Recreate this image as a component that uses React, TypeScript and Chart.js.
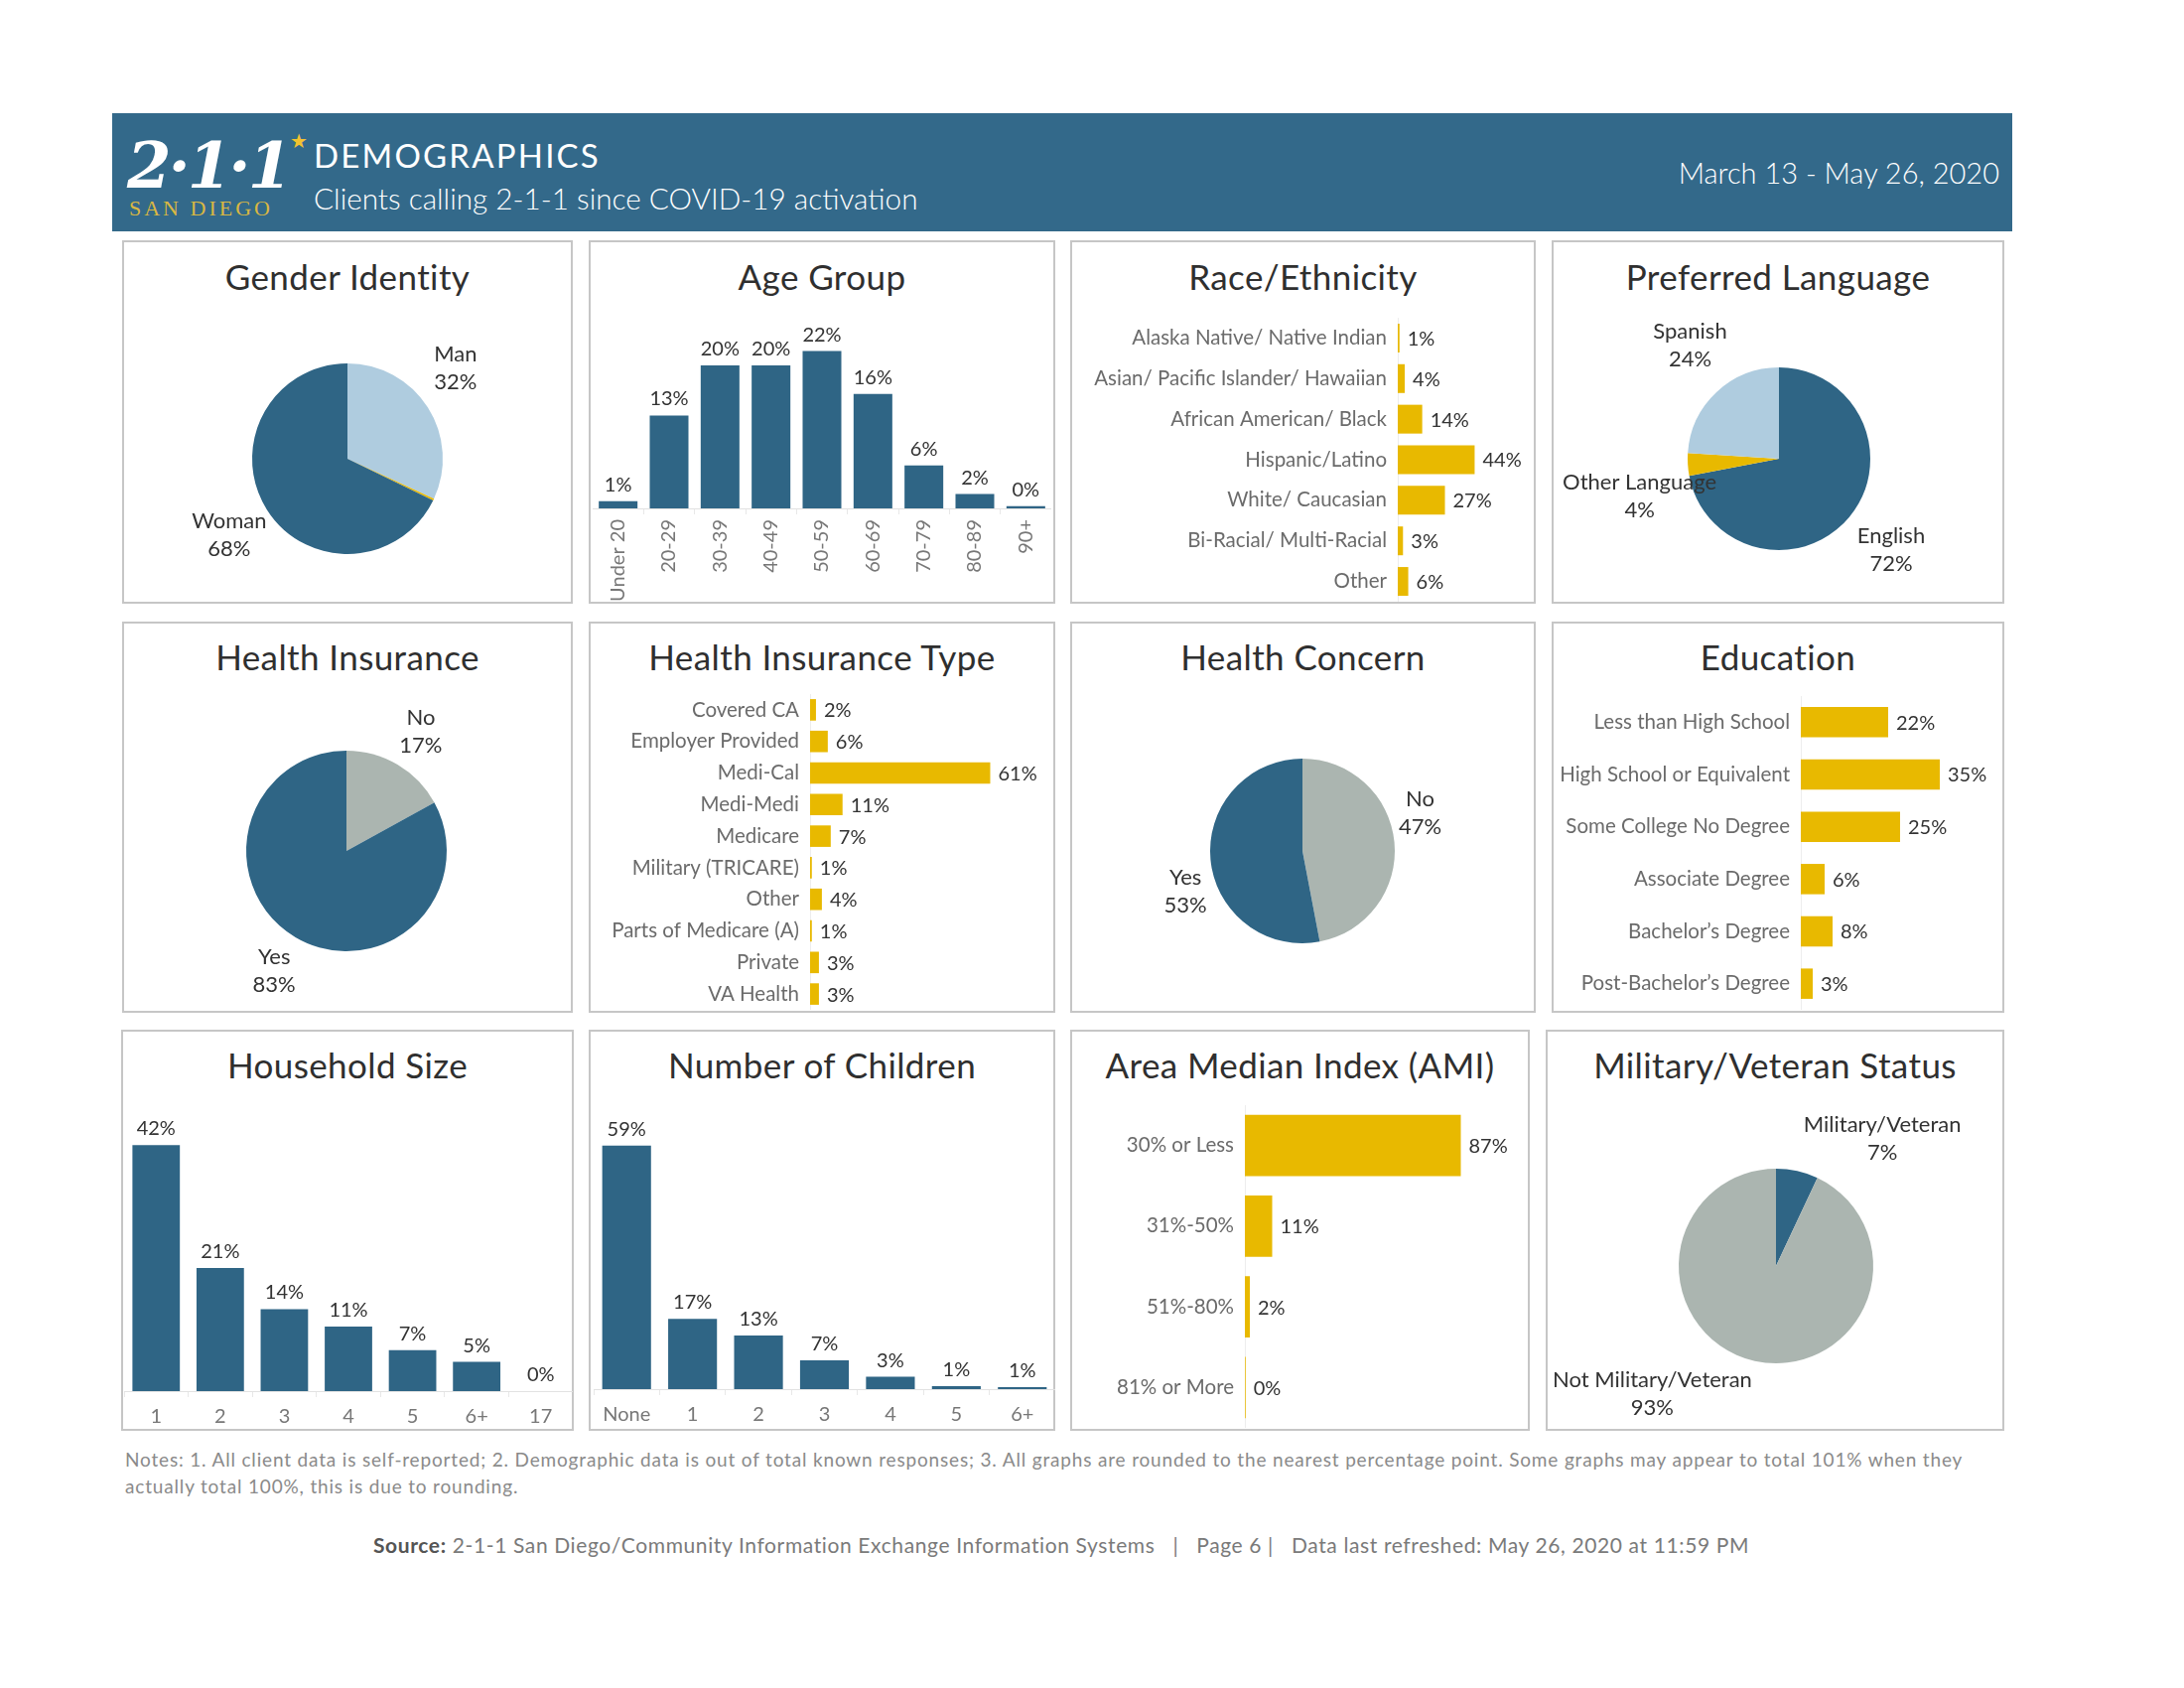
import React, { useEffect, useRef } from 'react';
import Chart from 'chart.js/auto';

const FONT = "Lato, 'Open Sans', 'DejaVu Sans', sans-serif";
const BLUE = '#2F6585';
const HEADER = '#33698A';
const LIGHT_BLUE = '#AFCCDF';
const GOLD = '#E8B900';
const GRAY = '#ABB5B0';
const TEXT = '#333333';
const TICK = '#6b6b6b';

Chart.defaults.font.family = FONT;

// ---------------- data ----------------
const GENDER_LABELS = ['Man', 'Another Gender', 'Woman'];
const GENDER_VALUES = [32, 0.3, 68];

const AGE_LABELS = ['Under 20', '20-29', '30-39', '40-49', '50-59', '60-69', '70-79', '80-89', '90+'];
const AGE_VALUES = [1, 13, 20, 20, 22, 16, 6, 2, 0.3];

const RACE_LABELS = [
  'Alaska Native/ Native Indian',
  'Asian/ Pacific Islander/ Hawaiian',
  'African American/ Black',
  'Hispanic/Latino',
  'White/ Caucasian',
  'Bi-Racial/ Multi-Racial',
  'Other',
];
const RACE_VALUES = [1, 4, 14, 44, 27, 3, 6];

const LANGUAGE_LABELS = ['English', 'Other Language', 'Spanish'];
const LANGUAGE_VALUES = [72, 4, 24];

const INSURANCE_LABELS = ['No', 'Yes'];
const INSURANCE_VALUES = [17, 83];

const INS_TYPE_LABELS = [
  'Covered CA',
  'Employer Provided',
  'Medi-Cal',
  'Medi-Medi',
  'Medicare',
  'Military (TRICARE)',
  'Other',
  'Parts of Medicare (A)',
  'Private',
  'VA Health',
];
const INS_TYPE_VALUES = [2, 6, 61, 11, 7, 0.6, 4, 0.6, 3, 3];

const CONCERN_LABELS = ['No', 'Yes'];
const CONCERN_VALUES = [47, 53];

const EDUCATION_LABELS = [
  'Less than High School',
  'High School or Equivalent',
  'Some College No Degree',
  'Associate Degree',
  'Bachelor\u2019s Degree',
  'Post-Bachelor\u2019s Degree',
];
const EDUCATION_VALUES = [22, 35, 25, 6, 8, 3];

const HOUSEHOLD_LABELS = ['1', '2', '3', '4', '5', '6+', '17'];
const HOUSEHOLD_VALUES = [42, 21, 14, 11, 7, 5, 0];

const CHILDREN_LABELS = ['None', '1', '2', '3', '4', '5', '6+'];
const CHILDREN_VALUES = [59, 17, 13, 7, 3, 0.7, 0.5];

const AMI_LABELS = ['30% or Less', '31%-50%', '51%-80%', '81% or More'];
const AMI_VALUES = [87, 11, 2, 0.3];

const MILITARY_LABELS = ['Military/Veteran', 'Not Military/Veteran'];
const MILITARY_VALUES = [7, 93];

// ---------------- plugins ----------------
const valueLabels = (horizontal: boolean) => ({
  id: 'valueLabels',
  afterDatasetsDraw(chart: any) {
    const { ctx } = chart;
    const ds = chart.data.datasets[0];
    const meta = chart.getDatasetMeta(0);
    ctx.save();
    ctx.font = `20px ${FONT}`;
    ctx.fillStyle = TEXT;
    meta.data.forEach((el: any, i: number) => {
      const t = `${Math.round(ds.data[i])}%`;
      if (horizontal) {
        ctx.textAlign = 'left';
        ctx.textBaseline = 'middle';
        ctx.fillText(t, el.x + 8, el.y + 1);
      } else {
        ctx.textAlign = 'center';
        ctx.textBaseline = 'alphabetic';
        ctx.fillText(t, el.x, el.y - 10);
      }
    });
    ctx.restore();
  },
});

const pieLabels = (factor: number | number[], anglesDeg?: (number | null)[]) => ({
  id: 'pieLabels',
  afterDatasetsDraw(chart: any) {
    const { ctx } = chart;
    const ds = chart.data.datasets[0];
    const labels = chart.data.labels;
    const meta = chart.getDatasetMeta(0);
    ctx.save();
    ctx.font = `22px ${FONT}`;
    ctx.fillStyle = TEXT;
    ctx.textAlign = 'center';
    ctx.textBaseline = 'middle';
    meta.data.forEach((arc: any, i: number) => {
      const v = ds.data[i];
      if (v < 1) return;
      const p = arc.getProps(['x', 'y', 'startAngle', 'endAngle', 'outerRadius'], true);
      const ov = anglesDeg ? anglesDeg[i] : null;
      const a = ov != null ? ((ov - 90) * Math.PI) / 180 : (p.startAngle + p.endAngle) / 2;
      const f = Array.isArray(factor) ? factor[i] : factor;
      const d = p.outerRadius * f;
      const lx = p.x + Math.cos(a) * d;
      const ly = p.y + Math.sin(a) * d;
      ctx.fillText(labels[i], lx, ly - 14);
      ctx.fillText(`${Math.round(v)}%`, lx, ly + 14);
    });
    ctx.restore();
  },
});

// ---------------- config builders ----------------
const baseOptions = {
  animation: false,
  responsive: false,
  maintainAspectRatio: false,
  events: [],
};

function vBar(labels: string[], values: number[], max: number, o: { rotate: boolean; axisH: number; barPct: number; tickLen: number; tickPad: number }) {
  return {
    type: 'bar',
    data: {
      labels,
      datasets: [{ data: values, backgroundColor: BLUE, borderWidth: 0, barPercentage: o.barPct, categoryPercentage: 1 }],
    },
    options: {
      ...baseOptions,
      layout: { padding: 0 },
      plugins: { legend: { display: false }, tooltip: { enabled: false } },
      scales: {
        x: {
          grid: { display: true, drawOnChartArea: false, offset: true, tickLength: o.tickLen, color: '#e8e8e8' },
          border: { display: true, color: '#e2e2e2' },
          ticks: {
            autoSkip: false,
            color: '#777777',
            font: { size: 20, family: FONT },
            padding: o.tickPad,
            maxRotation: o.rotate ? 90 : 0,
            minRotation: o.rotate ? 90 : 0,
          },
          afterFit: (s: any) => {
            s.height = o.axisH;
            s.paddingLeft = 0;
            s.paddingRight = 0;
          },
        },
        y: { display: false, min: 0, max },
      },
    },
    plugins: [valueLabels(false)],
  };
}

function hBar(labels: string[], values: number[], max: number, axisW: number, barPct: number) {
  return {
    type: 'bar',
    data: {
      labels,
      datasets: [{ data: values, backgroundColor: GOLD, borderWidth: 0, barPercentage: barPct, categoryPercentage: 1 }],
    },
    options: {
      ...baseOptions,
      indexAxis: 'y',
      layout: { padding: 0 },
      plugins: { legend: { display: false }, tooltip: { enabled: false } },
      scales: {
        y: {
          grid: { display: true, drawOnChartArea: false, drawTicks: false, color: '#eeeeee' },
          border: { display: true, color: '#ededed' },
          ticks: { autoSkip: false, color: TICK, font: { size: 20.5, family: FONT }, padding: 11 },
          afterFit: (s: any) => {
            s.width = axisW;
            s.paddingTop = 0;
            s.paddingBottom = 0;
          },
        },
        x: { display: false, min: 0, max },
      },
    },
    plugins: [valueLabels(true)],
  };
}

function pie(
  labels: string[],
  values: number[],
  colors: string[],
  rect: { x: number; y: number; w: number; h: number },
  cx: number,
  cy: number,
  r: number,
  factor: number | number[],
  angles?: (number | null)[]
) {
  return {
    type: 'pie',
    data: { labels, datasets: [{ data: values, backgroundColor: colors, borderWidth: 0 }] },
    options: {
      ...baseOptions,
      layout: {
        padding: {
          left: cx - r - rect.x,
          top: cy - r - rect.y,
          right: rect.x + rect.w - (cx + r),
          bottom: rect.y + rect.h - (cy + r),
        },
      },
      plugins: { legend: { display: false }, tooltip: { enabled: false } },
    },
    plugins: [pieLabels(factor, angles)],
  };
}

// ---------------- components ----------------
function ChartCanvas({ x, y, w, h, make }: { x: number; y: number; w: number; h: number; make: () => any }) {
  const ref = useRef<HTMLCanvasElement>(null);
  useEffect(() => {
    const chart = new Chart(ref.current as HTMLCanvasElement, make());
    return () => chart.destroy();
  }, []);
  return (
    <canvas
      ref={ref}
      width={w}
      height={h}
      style={{ position: 'absolute', left: x, top: y, width: w, height: h }}
    />
  );
}

function Txt({
  x,
  baseline,
  size,
  color = TEXT,
  align = 'left',
  weight = 400,
  family = FONT,
  italic = false,
  spacing = 0,
  children,
}: any) {
  const top = baseline - 0.987 * size;
  const box: any = { position: 'absolute', top, whiteSpace: 'nowrap', fontSize: size, lineHeight: `${size * 1.2}px` };
  if (align === 'center') {
    box.left = x - 1200;
    box.width = 2400;
    box.textAlign = 'center';
  } else if (align === 'right') {
    box.left = x - 2400;
    box.width = 2400;
    box.textAlign = 'right';
  } else {
    box.left = x;
  }
  return (
    <div
      style={{
        ...box,
        color,
        fontWeight: weight,
        fontFamily: family,
        fontStyle: italic ? 'italic' : 'normal',
        letterSpacing: spacing,
      }}
    >
      {children}
    </div>
  );
}

type Rect = { x1: number; y1: number; x2: number; y2: number };

function Panel({ r, title, titleBase }: { r: Rect; title: string; titleBase: number }) {
  return (
    <>
      <div
        style={{
          position: 'absolute',
          left: r.x1,
          top: r.y1,
          width: r.x2 - r.x1,
          height: r.y2 - r.y1,
          border: '2px solid #c6c6c6',
          boxSizing: 'border-box',
        }}
      />
      <Txt x={(r.x1 + r.x2) / 2} baseline={titleBase} size={35} spacing={0.4} align="center" color="#2f2f2f">
        {title}
      </Txt>
    </>
  );
}

const inner = (r: Rect) => ({ x: r.x1 + 2, y: r.y1 + 2, w: r.x2 - r.x1 - 4, h: r.y2 - r.y1 - 4 });

export default function App() {
  const R1 = [242, 608];
  const R2 = [626, 1020];
  const R3 = [1037, 1441];
  const gender: Rect = { x1: 123, y1: R1[0], x2: 577, y2: R1[1] };
  const age: Rect = { x1: 593, y1: R1[0], x2: 1063, y2: R1[1] };
  const race: Rect = { x1: 1078, y1: R1[0], x2: 1547, y2: R1[1] };
  const lang: Rect = { x1: 1563, y1: R1[0], x2: 2019, y2: R1[1] };
  const ins: Rect = { x1: 123, y1: R2[0], x2: 577, y2: R2[1] };
  const insType: Rect = { x1: 593, y1: R2[0], x2: 1063, y2: R2[1] };
  const concern: Rect = { x1: 1078, y1: R2[0], x2: 1547, y2: R2[1] };
  const edu: Rect = { x1: 1563, y1: R2[0], x2: 2019, y2: R2[1] };
  const house: Rect = { x1: 122, y1: R3[0], x2: 578, y2: R3[1] };
  const kids: Rect = { x1: 593, y1: R3[0], x2: 1063, y2: R3[1] };
  const ami: Rect = { x1: 1078, y1: R3[0], x2: 1541, y2: R3[1] };
  const mil: Rect = { x1: 1557, y1: R3[0], x2: 2019, y2: R3[1] };

  return (
    <div
      style={{
        position: 'absolute',
        left: 0,
        top: 0,
        width: 2200,
        height: 1700,
        background: '#ffffff',
        overflow: 'hidden',
        fontFamily: FONT,
      }}
    >
      {/* header band */}
      <div style={{ position: 'absolute', left: 113, top: 114, width: 1914, height: 119, background: HEADER }} />
      <Txt x={128} baseline={192} size={64} color="#ffffff" weight={700} italic family="'DejaVu Serif', 'Liberation Serif', serif" spacing={-3}>
        2·1·1
      </Txt>
      <Txt x={130} baseline={219} size={22} color="#D9B743" family="'Liberation Serif', 'DejaVu Serif', serif" spacing={3}>
        SAN DIEGO
      </Txt>
      <Txt x={292} baseline={150} size={20} color="#F2C230" family="'DejaVu Sans', sans-serif">
        ★
      </Txt>
      <Txt x={316} baseline={170} size={33} color="#ffffff" spacing={2.2}>
        DEMOGRAPHICS
      </Txt>
      <Txt x={316} baseline={211} size={29.7} color="#ffffff" weight={300}>
        Clients calling 2-1-1 since COVID-19 activation
      </Txt>
      <Txt x={2014} baseline={186} size={29} color="#ffffff" align="right" weight={300}>
        March 13 - May 26, 2020
      </Txt>

      {/* panels */}
      <Panel r={gender} title="Gender Identity" titleBase={292} />
      <Panel r={age} title="Age Group" titleBase={292} />
      <Panel r={race} title="Race/Ethnicity" titleBase={292} />
      <Panel r={lang} title="Preferred Language" titleBase={292} />
      <Panel r={ins} title="Health Insurance" titleBase={675} />
      <Panel r={insType} title="Health Insurance Type" titleBase={675} />
      <Panel r={concern} title="Health Concern" titleBase={675} />
      <Panel r={edu} title="Education" titleBase={675} />
      <Panel r={house} title="Household Size" titleBase={1086} />
      <Panel r={kids} title="Number of Children" titleBase={1086} />
      <Panel r={ami} title="Area Median Index (AMI)" titleBase={1086} />
      <Panel r={mil} title="Military/Veteran Status" titleBase={1086} />

      {/* row 1 */}
      <ChartCanvas
        {...inner(gender)}
        make={() =>
          pie(GENDER_LABELS, GENDER_VALUES, [LIGHT_BLUE, GOLD, BLUE], inner(gender), 350, 462, 96, 1.48, [50, null, 237])
        }
      />
      <ChartCanvas
        x={597}
        y={296}
        w={462}
        h={309}
        make={() => vBar(AGE_LABELS, AGE_VALUES, 30, { rotate: true, axisH: 93, barPct: 0.76, tickLen: 6, tickPad: 5 })}
      />
      <ChartCanvas x={1088} y={320} w={452} h={286} make={() => hBar(RACE_LABELS, RACE_VALUES, 75, 320, 0.71)} />
      <ChartCanvas
        {...inner(lang)}
        make={() =>
          pie(LANGUAGE_LABELS, LANGUAGE_VALUES, [BLUE, GOLD, LIGHT_BLUE], inner(lang), 1792, 462, 92, 1.58, [129, 255, 322])
        }
      />

      {/* row 2 */}
      <ChartCanvas
        {...inner(ins)}
        make={() => pie(INSURANCE_LABELS, INSURANCE_VALUES, [GRAY, BLUE], inner(ins), 349, 857, 101, 1.4, [32, 211])}
      />
      <ChartCanvas x={598} y={699} w={456} h={318} make={() => hBar(INS_TYPE_LABELS, INS_TYPE_VALUES, 80, 218, 0.68)} />
      <ChartCanvas
        {...inner(concern)}
        make={() => pie(CONCERN_LABELS, CONCERN_VALUES, [GRAY, BLUE], inner(concern), 1312, 857, 93, 1.34, [72, 251])}
      />
      <ChartCanvas x={1564} y={701} w={446} h={316} make={() => hBar(EDUCATION_LABELS, EDUCATION_VALUES, 49, 250, 0.58)} />

      {/* row 3 */}
      <ChartCanvas
        x={125}
        y={1106}
        w={452}
        h={333}
        make={() =>
          vBar(HOUSEHOLD_LABELS, HOUSEHOLD_VALUES, 50, { rotate: false, axisH: 38, barPct: 0.74, tickLen: 6, tickPad: 8 })
        }
      />
      <ChartCanvas
        x={598}
        y={1108}
        w={465}
        h={329}
        make={() =>
          vBar(CHILDREN_LABELS, CHILDREN_VALUES, 70, { rotate: false, axisH: 38, barPct: 0.74, tickLen: 6, tickPad: 8 })
        }
      />
      <ChartCanvas x={1104} y={1113} w={425} h={325} make={() => hBar(AMI_LABELS, AMI_VALUES, 110, 150, 0.76)} />
      <ChartCanvas
        {...inner(mil)}
        make={() => pie(MILITARY_LABELS, MILITARY_VALUES, [BLUE, GRAY], inner(mil), 1789, 1275, 98, [1.7, 1.83], [40, 224])}
      />

      {/* notes */}
      <Txt x={126} baseline={1478} size={19} color="#8a8a8a" spacing={0.83}>
        Notes: 1. All client data is self-reported; 2. Demographic data is out of total known responses; 3. All graphs are rounded to the nearest percentage point. Some graphs may appear to total 101% when they
      </Txt>
      <Txt x={126} baseline={1505} size={19} color="#8a8a8a" spacing={0.83}>
        actually total 100%, this is due to rounding.
      </Txt>
      <Txt x={1069} baseline={1564} size={21} color="#7a7a7a" align="center" spacing={0.62}>
        <span style={{ fontWeight: 700, color: '#555555' }}>Source:</span> 2-1-1 San Diego/Community Information Exchange
        Information Systems&nbsp;&nbsp;&nbsp;|&nbsp;&nbsp;&nbsp;Page 6&nbsp;|&nbsp;&nbsp;&nbsp;Data last refreshed: May 26, 2020 at 11:59 PM
      </Txt>
    </div>
  );
}
